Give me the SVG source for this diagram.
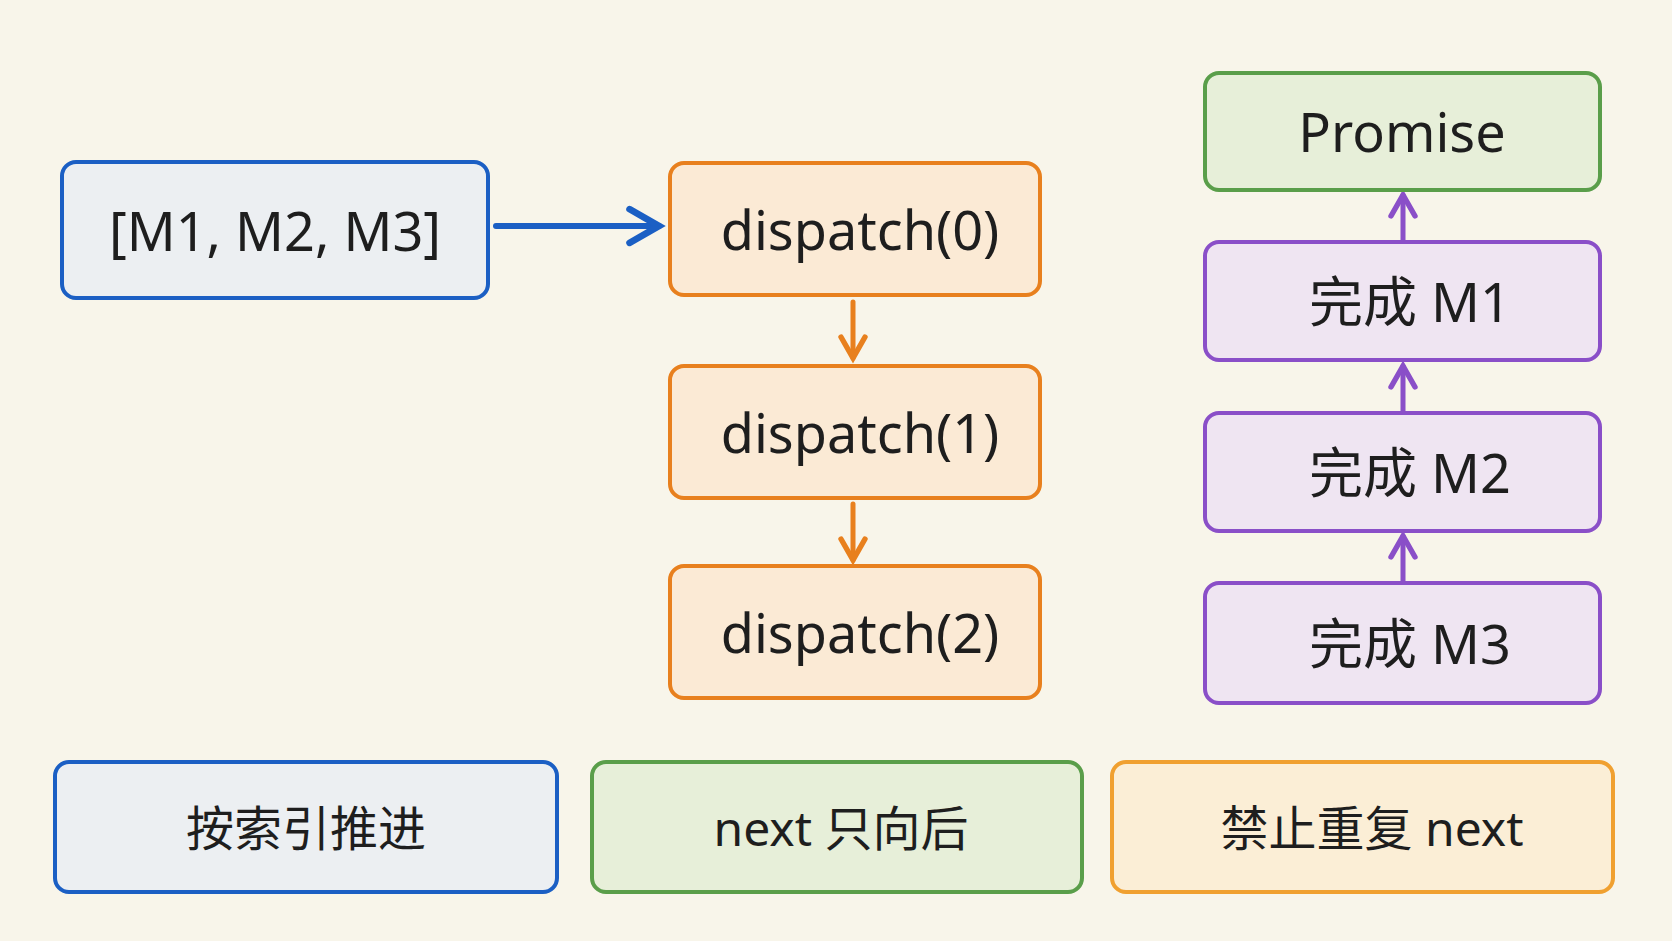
<svg xmlns="http://www.w3.org/2000/svg" width="1672" height="941" viewBox="0 0 1672 941">
<style>
text{font-family:"Noto Sans","Noto Sans CJK SC",sans-serif;fill:#1e1e1e;text-anchor:middle;dominant-baseline:central}
.big{font-size:54px}
.sm{font-size:48px}
rect{stroke-width:4}
.b{fill:#eceff2;stroke:#1b5fc4}
.o{fill:#fbead5;stroke:#e8801e}
.g{fill:#e7efd9;stroke:#5a9e4a}
.p{fill:#efe5f2;stroke:#8a4fc8}
.y{fill:#fbeed6;stroke:#f0a030}
</style>
<defs>
<marker id="ab" viewBox="0 0 10 10" refX="8" refY="5" markerWidth="7" markerHeight="7" orient="auto"><path d="M1,1 L8,5 L1,9" fill="none" stroke="#1b5fc4" stroke-width="1.6" stroke-linecap="round"/></marker>
<marker id="ao" viewBox="0 0 10 10" refX="8" refY="5" markerWidth="6" markerHeight="6" orient="auto"><path d="M1,1 L8,5 L1,9" fill="none" stroke="#e8801e" stroke-width="1.8" stroke-linecap="round"/></marker>
<marker id="ap" viewBox="0 0 10 10" refX="8" refY="5" markerWidth="6" markerHeight="6" orient="auto"><path d="M1,1 L8,5 L1,9" fill="none" stroke="#8a4fc8" stroke-width="1.8" stroke-linecap="round"/></marker>
</defs>
<rect width="1672" height="941" fill="#f8f5ea" stroke="none"/>
<g id="connectors" fill="none" stroke-width="5" stroke-linecap="round">
<line x1="496" y1="226" x2="659" y2="226" stroke="#1b5fc4" stroke-width="6" marker-end="url(#ab)"/>
<line x1="853" y1="302" x2="853" y2="358" stroke="#e8801e" marker-end="url(#ao)"/>
<line x1="853" y1="504" x2="853" y2="560" stroke="#e8801e" marker-end="url(#ao)"/>
<line x1="1403" y1="240" x2="1403" y2="195" stroke="#8a4fc8" marker-end="url(#ap)"/>
<line x1="1403" y1="411" x2="1403" y2="366" stroke="#8a4fc8" marker-end="url(#ap)"/>
<line x1="1403" y1="581" x2="1403" y2="536" stroke="#8a4fc8" marker-end="url(#ap)"/>
</g>
<g id="arr"><rect class="b" x="62" y="162" width="426" height="136" rx="14"/><text class="big" x="275" y="230">[M1, M2, M3]</text></g>
<g id="d0"><rect class="o" x="670" y="163" width="370" height="132" rx="14"/><text class="big" x="860" y="229">dispatch(0)</text></g>
<g id="d1"><rect class="o" x="670" y="366" width="370" height="132" rx="14"/><text class="big" x="860" y="432">dispatch(1)</text></g>
<g id="d2"><rect class="o" x="670" y="566" width="370" height="132" rx="14"/><text class="big" x="860" y="632">dispatch(2)</text></g>
<g id="promise"><rect class="g" x="1205" y="73" width="395" height="117" rx="14"/><text class="big" x="1402" y="131">Promise</text></g>
<g id="m1"><rect class="p" x="1205" y="242" width="395" height="118" rx="14"/><text class="big" x="1410" y="301">完成 M1</text></g>
<g id="m2"><rect class="p" x="1205" y="413" width="395" height="118" rx="14"/><text class="big" x="1410" y="472">完成 M2</text></g>
<g id="m3"><rect class="p" x="1205" y="583" width="395" height="120" rx="14"/><text class="big" x="1410" y="643">完成 M3</text></g>
<g id="n1"><rect class="b" x="55" y="762" width="502" height="130" rx="14"/><text class="sm" x="306" y="827">按索引推进</text></g>
<g id="n2"><rect class="g" x="592" y="762" width="490" height="130" rx="14"/><text class="sm" x="841" y="827">next 只向后</text></g>
<g id="n3"><rect class="y" x="1112" y="762" width="501" height="130" rx="14"/><text class="sm" x="1372" y="827">禁止重复 next</text></g>
</svg>
